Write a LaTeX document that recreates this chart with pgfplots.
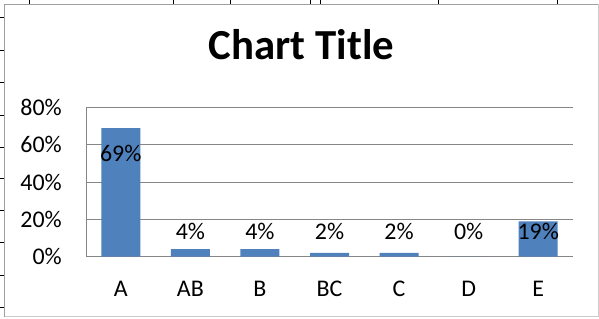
\documentclass[border=0pt]{standalone}
\usepackage{fontspec}
\setmainfont{Carlito}
\usepackage{pgfplots}
\pgfplotsset{compat=1.18}
\definecolor{barblue}{RGB}{79,129,189}
\definecolor{gridgray}{RGB}{134,134,134}
\definecolor{framegray}{RGB}{160,160,160}
\begin{document}
\begin{tikzpicture}[x=1bp,y=1bp]
\useasboundingbox (0,0) rectangle (599,318);
\fill[white] (0,0) rectangle (599,318);
% spreadsheet cell borders peeking out
\foreach \xx in {29,173,230,310,320,438,557} {\draw[black,line width=1bp] (\xx,318) -- (\xx,314);}
\foreach \yy in {18,50,82,115,147,178,210,242,275,307} {\draw[black,line width=1bp] (0,318-\yy) -- (4,318-\yy);}
% chart area frame
\draw[framegray,line width=1.5bp] (4.5,1.5) -- (4.5,313.5) -- (598,313.5);
\draw[black!20,line width=1bp] (598,313.5) -- (598,1.5) -- (4.5,1.5);
\begin{axis}[
  at={(86bp,61.3bp)}, anchor=south west,
  scale only axis, width=487bp, height=149.2bp,
  xmin=-0.5, xmax=6.5, ymin=0, ymax=0.8,
  xtick={0,1,2,3,4,5,6},
  xticklabels={A,AB,B,BC,C,D,E},
  ytick={0,0.2,0.4,0.6,0.8},
  yticklabels={0\%,20\%,40\%,60\%,80\%},
  major tick length=0pt,
  axis x line*=bottom, axis y line*=left,
  x axis line style={gridgray,line width=1.5bp,-},
  y axis line style={gridgray,line width=1bp,-},
  ymajorgrids, major grid style={gridgray,line width=1.2bp},
  tick label style={font=\fontsize{24}{28}\selectfont, text=black},
  yticklabel style={anchor=east, inner sep=0pt, xshift=-24bp},
  xticklabel style={anchor=base, inner sep=0pt, yshift=-40bp},
  title={\textbf{Chart Title}},
  title style={at={(0.4425,1)}, anchor=base, yshift=42.5bp, inner sep=0pt, font=\fontsize{43}{50}\selectfont},
  clip=false,
]
\addplot[ybar, bar width=39bp, fill=barblue, draw=none]
  coordinates {(0,0.69) (1,0.04) (2,0.04) (3,0.02) (4,0.02) (5,0.0) (6,0.19)};
\addplot[draw=none, mark=none, point meta=explicit symbolic,
  nodes near coords,
  every node near coord/.append style={anchor=base, inner sep=0pt, font=\fontsize{24}{28}\selectfont, text=black}]
  coordinates {(0,0.508)[69\%] (1,0.09)[4\%] (2,0.09)[4\%] (3,0.09)[2\%] (4,0.09)[2\%] (5,0.09)[0\%] (6,0.09)[19\%]};
\end{axis}
\end{tikzpicture}
\end{document}
